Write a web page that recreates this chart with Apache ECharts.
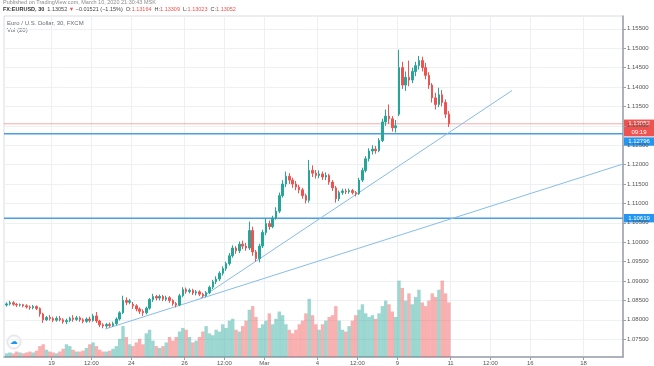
<!DOCTYPE html>
<html><head><meta charset="utf-8">
<script src="https://cdn.jsdelivr.net/npm/echarts@6/dist/echarts.min.js"></script>
<style>html,body{margin:0;padding:0;background:#fff}#c{width:654px;height:366px}</style>
</head><body><div id="c"></div>
<script>
// time is measured in trading hours since Feb 19 00:00 (weekends removed); each candle = 3 hours
const startHour = -42;
const slotHours = 3;
// [open, close, low, high]
const candles = [
[1.0838,1.0841,1.0834,1.0845],[1.0841,1.0844,1.0837,1.0849],[1.0844,1.0840,1.0836,1.0848],[1.0840,1.0838,1.0833,1.0843],
[1.0838,1.0839,1.0834,1.0842],[1.0839,1.0836,1.0832,1.0841],[1.0836,1.0833,1.0829,1.0840],[1.0833,1.0831,1.0826,1.0837],
[1.0831,1.0834,1.0827,1.0838],[1.0834,1.0829,1.0825,1.0837],[1.0829,1.0815,1.0808,1.0832],[1.0815,1.0800,1.0792,1.0818],
[1.0800,1.0806,1.0797,1.0810],[1.0806,1.0803,1.0798,1.0812],[1.0803,1.0799,1.0794,1.0808],[1.0799,1.0804,1.0795,1.0809],
[1.0804,1.0800,1.0796,1.0810],[1.0800,1.0795,1.0790,1.0804],[1.0795,1.0798,1.0789,1.0803],[1.0798,1.0804,1.0794,1.0808],
[1.0804,1.0801,1.0795,1.0812],[1.0801,1.0805,1.0797,1.0810],[1.0805,1.0800,1.0795,1.0809],[1.0800,1.0796,1.0791,1.0804],
[1.0796,1.0802,1.0792,1.0806],[1.0802,1.0798,1.0793,1.0808],[1.0798,1.0810,1.0795,1.0815],[1.0810,1.0797,1.0792,1.0820],
[1.0797,1.0787,1.0781,1.0800],[1.0787,1.0784,1.0778,1.0791],[1.0784,1.0788,1.0779,1.0792],[1.0788,1.0785,1.0780,1.0793],
[1.0785,1.0790,1.0782,1.0795],[1.0790,1.0802,1.0786,1.0806],[1.0802,1.0818,1.0798,1.0822],[1.0818,1.0850,1.0815,1.0862],
[1.0850,1.0845,1.0838,1.0858],[1.0845,1.0849,1.0840,1.0854],[1.0840,1.0836,1.0828,1.0846],[1.0836,1.0828,1.0822,1.0840],
[1.0828,1.0822,1.0815,1.0832],[1.0822,1.0818,1.0810,1.0827],[1.0818,1.0830,1.0814,1.0834],[1.0830,1.0852,1.0826,1.0856],
[1.0852,1.0860,1.0846,1.0867],[1.0860,1.0856,1.0850,1.0864],[1.0856,1.0860,1.0850,1.0865],[1.0860,1.0853,1.0848,1.0864],
[1.0853,1.0857,1.0848,1.0862],[1.0857,1.0850,1.0844,1.0861],[1.0850,1.0842,1.0836,1.0853],[1.0842,1.0838,1.0832,1.0846],
[1.0838,1.0862,1.0835,1.0867],[1.0862,1.0878,1.0858,1.0884],[1.0878,1.0873,1.0867,1.0883],[1.0873,1.0876,1.0868,1.0881],
[1.0876,1.0869,1.0864,1.0880],[1.0869,1.0872,1.0863,1.0877],[1.0872,1.0866,1.0861,1.0876],[1.0866,1.0862,1.0857,1.0870],
[1.0862,1.0870,1.0858,1.0874],[1.0870,1.0884,1.0866,1.0888],[1.0884,1.0898,1.0879,1.0903],[1.0898,1.0905,1.0892,1.0912],
[1.0905,1.0920,1.0900,1.0925],[1.0920,1.0932,1.0914,1.0938],[1.0932,1.0945,1.0926,1.0950],[1.0945,1.0965,1.0940,1.0972],
[1.0965,1.0985,1.0960,1.0992],[1.0985,1.0978,1.0970,1.0990],[1.0978,1.0995,1.0972,1.1002],[1.0995,1.0990,1.0982,1.1004],
[1.0990,1.0985,1.0978,1.0998],[1.0985,1.1030,1.0980,1.1053],[1.1030,1.0975,1.0965,1.1040],[1.0975,1.0958,1.0950,1.0980],
[1.0958,1.0990,1.0948,1.0996],[1.0990,1.1025,1.0985,1.1032],[1.1025,1.1048,1.1018,1.1062],[1.1048,1.1040,1.1032,1.1056],
[1.1040,1.1062,1.1036,1.1068],[1.1062,1.1080,1.1058,1.1090],[1.1080,1.1120,1.1075,1.1128],[1.1120,1.1150,1.1115,1.1160],
[1.1150,1.1170,1.1142,1.1182],[1.1170,1.1160,1.1150,1.1178],[1.1160,1.1150,1.1140,1.1166],[1.1150,1.1142,1.1134,1.1158],
[1.1142,1.1135,1.1126,1.1148],[1.1135,1.1120,1.1112,1.1140],[1.1120,1.1108,1.1100,1.1125],[1.1108,1.1185,1.1102,1.1212],
[1.1185,1.1178,1.1168,1.1198],[1.1178,1.1172,1.1164,1.1186],[1.1172,1.1176,1.1165,1.1185],[1.1176,1.1168,1.1160,1.1182],
[1.1168,1.1172,1.1160,1.1180],[1.1172,1.1155,1.1148,1.1176],[1.1155,1.1140,1.1132,1.1160],[1.1140,1.1112,1.1102,1.1145],
[1.1112,1.1128,1.1106,1.1133],[1.1128,1.1132,1.1122,1.1138],[1.1132,1.1130,1.1124,1.1138],[1.1130,1.1133,1.1125,1.1138],
[1.1133,1.1128,1.1123,1.1137],[1.1128,1.1125,1.1118,1.1132],[1.1125,1.1160,1.1122,1.1166],[1.1160,1.1185,1.1155,1.1192],
[1.1185,1.1215,1.1180,1.1222],[1.1215,1.1235,1.1208,1.1242],[1.1235,1.1240,1.1226,1.1250],[1.1240,1.1236,1.1228,1.1248],
[1.1236,1.1262,1.1232,1.1268],[1.1262,1.1310,1.1258,1.1318],[1.1310,1.1325,1.1300,1.1342],[1.1325,1.1318,1.1305,1.1355],
[1.1318,1.1295,1.1285,1.1325],[1.1295,1.1300,1.1283,1.1315],[1.1330,1.1450,1.1325,1.1496],[1.1450,1.1405,1.1395,1.1465],
[1.1405,1.1425,1.1390,1.1440],[1.1425,1.1418,1.1402,1.1468],[1.1418,1.1440,1.1410,1.1450],[1.1440,1.1455,1.1428,1.1465],
[1.1455,1.1468,1.1445,1.1480],[1.1468,1.1450,1.1440,1.1478],[1.1450,1.1430,1.1420,1.1462],[1.1430,1.1405,1.1395,1.1438],
[1.1405,1.1372,1.1360,1.1410],[1.1372,1.1355,1.1342,1.1385],[1.1355,1.1380,1.1348,1.1398],[1.1380,1.1360,1.1350,1.1392],
[1.1360,1.1330,1.1320,1.1368],[1.1330,1.13052,1.1297,1.1338]
];
const volumes = [
4,5,4,6,5,4, 5,6,5,7, 12,14,8,6, 5,4,6,9, 14,12,8,6, 6,7,10,14, 16,12,8,6, 6,7,9,12,
20,34,22,14, 12,16,20,14, 26,30,18,12, 10,12,16,22, 18,22,28,32, 30,22,16,18, 22,28,34,26,
24,30,28,36, 32,40,42,30, 28,34,40,52, 56,44,32,36, 40,48,36,42, 50,46,36,30, 26,30,36,40,
48,64,46,36, 30,36,40,44, 46,56,40,30, 28,34,40,46, 52,58,48,44, 46,42,48,56, 62,58,50,44,
84,76,62,70, 58,66,74,60, 56,62,70,66, 74,84,70,60
];
const xTickHours = [0,36,72,120,156,192,240,276,312,360,396,432,480];
const xTickLabels = ['19','12:00','24','26','12:00','Mar','4','12:00','9','11','12:00','16','18'];
const yTicks = [1.075,1.080,1.085,1.090,1.095,1.100,1.105,1.110,1.115,1.120,1.125,1.130,1.135,1.140,1.145,1.150,1.155];
const lastPrice = 1.13052;
const levelLines = [1.12796, 1.10619];
const trendLine1 = [[134,1.0855],[415.5,1.1391]];
const trendLine2 = [[48.3,1.0776],[515.6,1.12015]];

const xMin = -42.86, xMax = 515.6, yMin = 1.07041, yMax = 1.15830;
const FONT = '"Liberation Sans", Arial, sans-serif';
const UP = '#26a69a', DOWN = '#ef5350', BLUE = '#4a9fe3', TREND = '#86bde9';

const chart = echarts.init(document.getElementById('c'));
const candleData = candles.map((d, i) => [startHour + i * slotHours + slotHours / 2, d[0], d[1], d[2], d[3]]);
const volData = volumes.map((v, i) => ({
  value: [startHour + i * slotHours + slotHours / 2, v],
  itemStyle: { color: candles[i][1] >= candles[i][0] ? 'rgba(38,166,154,0.45)' : 'rgba(239,83,80,0.45)' }
}));
function hLine(p, color, width) {
  return { type: 'line', data: [[xMin, p], [xMax, p]], symbol: 'none', silent: true, z: 3,
           lineStyle: { color: color, width: width } };
}

const option = {
  animation: false,
  grid: [
    { left: 4, right: 31, top: 16, bottom: 9, show: true, borderColor: '#d9dce3', borderWidth: 1 },
    { left: 4, right: 31, top: 257, bottom: 9 }
  ],
  xAxis: [
    { type: 'value', gridIndex: 0, min: xMin, max: xMax,
      axisLine: { show: true, onZero: false, lineStyle: { color: '#9aa0aa', width: 1.5 } },
      axisTick: { show: true, customValues: xTickHours, length: 3, lineStyle: { color: '#9aa0aa' } },
      axisLabel: { customValues: xTickHours, formatter: v => xTickLabels[xTickHours.indexOf(v)], fontSize: 6, color: '#555', margin: 3, fontFamily: FONT },
      splitLine: { show: true, lineStyle: { color: '#eef0f4', width: 1 } } },
    { type: 'value', gridIndex: 1, min: xMin, max: xMax, show: false }
  ],
  yAxis: [
    { type: 'value', gridIndex: 0, position: 'right', min: yMin, max: yMax, scale: true,
      axisLine: { show: true, onZero: false, lineStyle: { color: '#9aa0aa', width: 1.5 } },
      axisTick: { show: true, customValues: yTicks, length: 3, lineStyle: { color: '#9aa0aa' } },
      axisLabel: { customValues: yTicks, formatter: v => v.toFixed(5), fontSize: 6, margin: 4, color: '#555', fontFamily: FONT },
      splitLine: { show: true, lineStyle: { color: '#eef0f4', width: 1 } } },
    { type: 'value', gridIndex: 1, min: 0, max: 110, show: false }
  ],
  series: [
    { type: 'bar', xAxisIndex: 1, yAxisIndex: 1, data: volData, barWidth: 3.4, silent: true },
    hLine(lastPrice, 'rgba(239,83,80,0.5)', 1),
    hLine(levelLines[0], BLUE, 1.5),
    hLine(levelLines[1], BLUE, 1.5),
    { type: 'line', data: trendLine1, symbol: 'none', lineStyle: { color: TREND, width: 1 }, silent: true, z: 3 },
    { type: 'line', data: trendLine2, symbol: 'none', lineStyle: { color: TREND, width: 1 }, silent: true, z: 3 },
    { type: 'candlestick', xAxisIndex: 0, yAxisIndex: 0, data: candleData, barWidth: 2, z: 4,
      itemStyle: { color: UP, color0: DOWN, borderColor: UP, borderColor0: DOWN, borderWidth: 1 } }
  ],
  graphic: [
    { type: 'text', left: 3, top: -1, style: { text: 'Published on TradingView.com, March 10, 2020 21:30:43 MSK', font: '5.5px ' + FONT, fill: '#8c8c8c' } },
    { type: 'text', left: 3, top: 6, style: {
        text: '{b|FX:EURUSD, 30}  {d|1.13052} {r|▼} {d|−0.01521 (−1.15%)}  {d|O:}{r|1.13164}  {d|H:}{r|1.13309}  {d|L:}{r|1.13023}  {d|C:}{r|1.13052}',
        font: '5.5px ' + FONT,
        rich: { b: { fontWeight: 'bold', fill: '#333', fontSize: 5.5, fontFamily: FONT },
                d: { fill: '#444', fontSize: 5.5, fontFamily: FONT },
                r: { fill: '#ef5350', fontSize: 5.5, fontFamily: FONT } } } },
    { type: 'text', left: 7, top: 20, style: { text: 'Euro / U.S. Dollar, 30, FXCM', font: '6px ' + FONT, fill: '#6a6d78' } },
    { type: 'text', left: 7, top: 27, style: { text: 'Vol (20)', font: '6px ' + FONT, fill: '#6a6d78' } },
    { type: 'circle', shape: { cx: 14, cy: 342, r: 6.5 }, style: { fill: '#fff', stroke: '#e3e6ec', lineWidth: 1, shadowBlur: 2, shadowColor: 'rgba(0,0,0,0.15)' } },
    { type: 'text', x: 14, y: 342, style: { text: '☁', font: '8px "DejaVu Sans"', fill: '#2196f3', align: 'center', verticalAlign: 'middle' } }
  ]
};
chart.setOption(option);

// price tags on the right scale, placed through the axis scale
const axisX = 624;
const yLast = chart.convertToPixel({ yAxisIndex: 0 }, lastPrice);
const yB1 = chart.convertToPixel({ yAxisIndex: 0 }, levelLines[0]);
const yB2 = chart.convertToPixel({ yAxisIndex: 0 }, levelLines[1]);
const tagH = 8.4;
function tag(id, y, txt, fill) {
  return [
    { id: id + 'r', type: 'rect', shape: { x: axisX, y: y - tagH / 2, width: 30, height: tagH }, style: { fill: fill } },
    { id: id + 't', type: 'text', x: axisX + 15, y: y, style: { text: txt, font: '6px ' + FONT, fill: '#fff', align: 'center', verticalAlign: 'middle' } }
  ];
}
const cdY = yLast + tagH;
const b1Y = Math.max(yB1, cdY + tagH + 1);
chart.setOption({ graphic: [].concat(
  tag('last', yLast, lastPrice.toFixed(5), '#ef5350'),
  tag('cd', cdY, '09:19', '#ef5350'),
  tag('b1', b1Y, levelLines[0].toFixed(5), '#2196f3'),
  tag('b2', yB2, levelLines[1].toFixed(5), '#2196f3')
) });
</script></body></html>
